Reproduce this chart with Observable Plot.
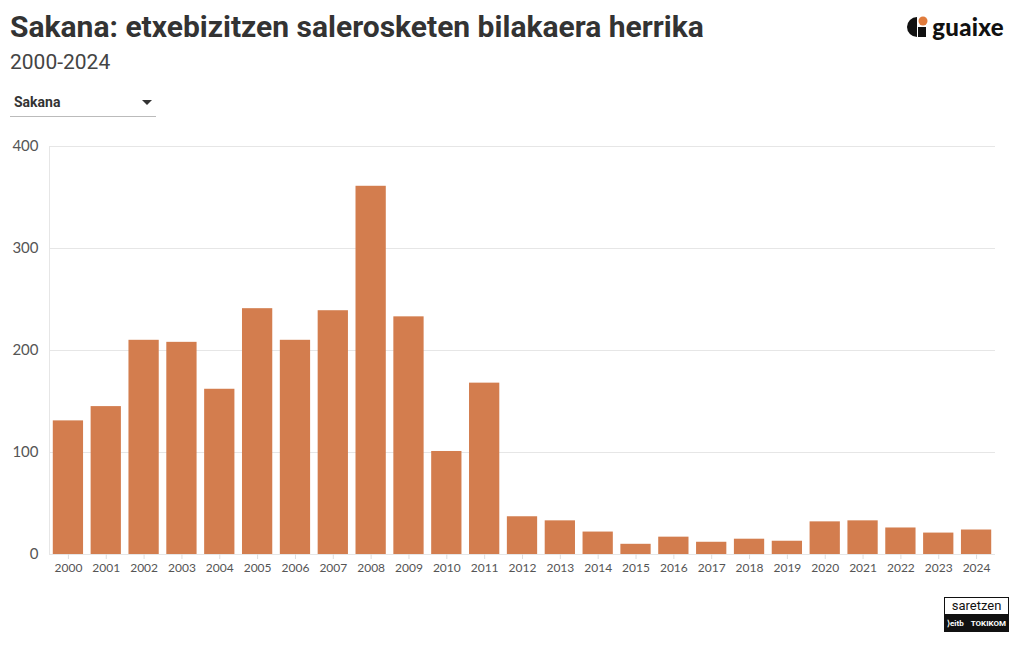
<!DOCTYPE html>
<html><head><meta charset="utf-8">
<script src="https://cdn.jsdelivr.net/npm/d3@7"></script>
<script src="https://cdn.jsdelivr.net/npm/@observablehq/plot@0.6"></script>
<style>
body{margin:0;background:#fff;font-family:Roboto,"Noto Sans",sans-serif;width:1020px;height:650px;position:relative;overflow:hidden}
#title{position:absolute;left:10px;top:9px;font-size:30px;font-weight:700;color:#333;white-space:nowrap}
#sub{position:absolute;left:10px;top:50px;font-size:21px;color:#444;font-weight:400}
#dd{position:absolute;left:10px;top:92px;width:146px;height:24px;border-bottom:1px solid #bbb;font-size:14px;font-weight:700;color:#333}
#dd span{position:absolute;left:4px;top:2px}
#caret{position:absolute;left:132px;top:8px;width:0;height:0;border-left:5px solid transparent;border-right:5px solid transparent;border-top:5px solid #333}
#chart{position:absolute;left:0;top:130px}
#logo{position:absolute;right:16px;top:12px;display:flex;align-items:center}
#logo .t{font-family:Lato,sans-serif;font-weight:900;font-size:24px;color:#111;margin-left:2px;letter-spacing:0.3px}
#bl{position:absolute;left:944px;top:597px;width:65px}
#bl .s{border:1.5px solid #111;border-bottom:none;font-size:13px;font-family:Roboto,sans-serif;color:#111;text-align:center;height:16px;line-height:15px}
#bl .b{background:#111;color:#fff;height:18px;font-size:8px;font-weight:700;display:flex;justify-content:space-between;align-items:center;padding:0 3px}
</style></head><body>
<div id="title">Sakana: etxebizitzen salerosketen bilakaera herrika</div>
<div id="sub">2000-2024</div>
<div id="dd"><span>Sakana</span><div id="caret"></div></div>
<div id="logo"><svg width="24" height="24" viewBox="0 0 24 24"><path d="M11 2 A10 10 0 0 0 11 22 Z" fill="#111"/><rect x="12" y="12" width="8" height="10" fill="#111"/><circle cx="17" cy="6" r="4.5" fill="#e07b3c"/></svg><span class="t">guaixe</span></div>
<div id="chart"></div>
<div id="bl"><div class="s">saretzen</div><div class="b"><span>⟩eitb</span><span>TOKIKOM</span></div></div>
<script>
const years = ["2000","2001","2002","2003","2004","2005","2006","2007","2008","2009","2010","2011","2012","2013","2014","2015","2016","2017","2018","2019","2020","2021","2022","2023","2024"];
const values = [131,145,210,208,162,241,210,239,361,233,101,168,37,33,22,10,17,12,15,13,32,33,26,21,24];
const yTicks = [0,100,200,300,400];
const data = years.map((y,i)=>({year:y,value:values[i]}));
const chart = Plot.plot({
  width:1020, height:450,
  marginTop:16, marginBottom:26, marginLeft:49, marginRight:25,
  style:{fontFamily:"Lato, sans-serif", background:"transparent"},
  x:{domain:years, paddingInner:0.2, paddingOuter:0.1, round:false, label:null},
  y:{domain:[0,400], ticks:yTicks, label:null},
  marks:[
    Plot.gridY(yTicks,{stroke:"#e6e6e6", strokeOpacity:1}),
    Plot.frame({anchor:"left", stroke:"#e6e6e6"}),
    Plot.axisY(yTicks,{tickSize:0, tickPadding:11, fontSize:15, fill:"#555", label:null}),
    Plot.axisX({tickSize:5, stroke:"#ddd", tickPadding:4, fontSize:12, fill:"#555", label:null}),
    Plot.barY(data,{x:"year", y:"value", fill:"#d37d4e"})
  ]
});
document.getElementById("chart").appendChild(chart);
</script>
</body></html>
